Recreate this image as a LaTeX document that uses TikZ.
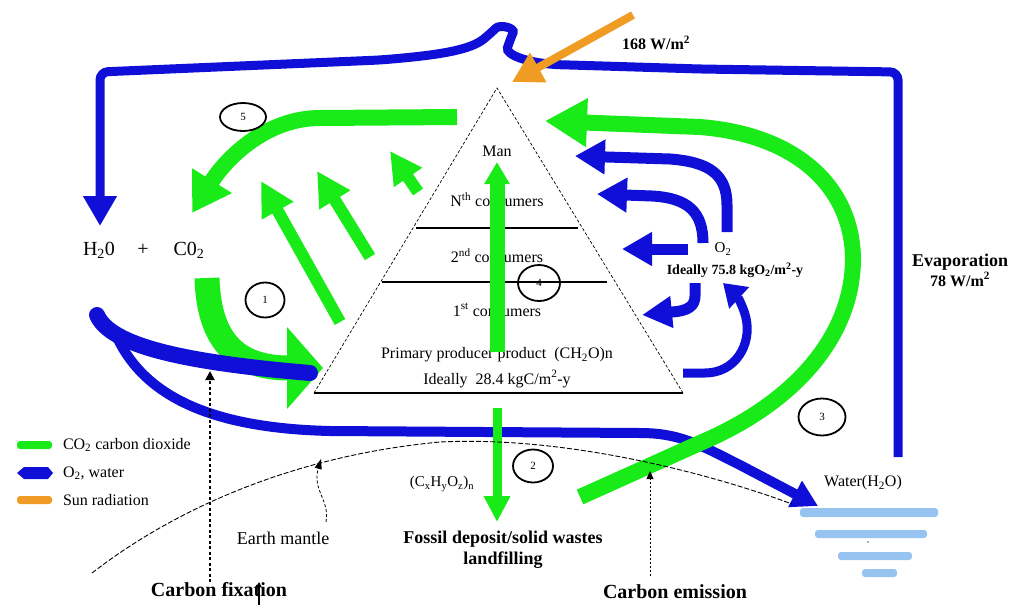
\documentclass[tikz,border=0pt]{standalone}
\usepackage{fontspec}
\setmainfont{Liberation Serif}
\usetikzlibrary{arrows.meta,shapes.geometric}
\definecolor{cgreen}{RGB}{25,235,25}
\definecolor{cblue}{RGB}{15,15,215}
\definecolor{corange}{RGB}{240,155,35}
\definecolor{cwater}{RGB}{150,195,240}
\newcommand{\fs}[1]{\fontsize{#1}{#1}\selectfont}
\begin{document}
\begin{tikzpicture}[x=1pt,y=-1pt,
  txt/.style={inner sep=0pt,outer sep=0pt},
  num/.style={ellipse,draw=black,line width=1.8pt,inner sep=0pt,font=\fs{11}},
  gflow/.style={draw=cgreen,line width=#1},
  bflow/.style={draw=cblue,line width=#1},
  legbar/.style={rounded corners=3pt},
  waterbar/.style={fill=cwater,rounded corners=3pt}]
\useasboundingbox (0,0) rectangle (1011,605);

% ---------- pyramid ----------
\coordinate (apex) at (497,88);
\coordinate (bl) at (314,393);
\coordinate (br) at (683,393);
\draw[line width=0.7pt,dash pattern=on 3pt off 2pt] (bl) -- (apex) -- (br);
\draw[line width=1.3pt] (bl) -- (br);
\draw[line width=1.1pt] (416,228) -- (578,228);
\draw[line width=1.1pt] (382,282) -- (607,282);

\node[txt,font=\fs{16}] (man) at (497,151) {Man};
\node[txt,font=\fs{16}] (nth) at (497,200) {N\textsuperscript{th} consumers};
\node[txt,font=\fs{16}] (snd) at (497,256) {2\textsuperscript{nd} consumers};
\node[txt,font=\fs{16}] (fst) at (497,310) {1\textsuperscript{st} consumers};
\node[txt,font=\fs{16}] (prim) at (497,355) {Primary producer product \ (CH\textsubscript{2}O)n};
\node[txt,font=\fs{16}] (ideal) at (497,379) {Ideally \ 28.4 kgC/m\textsuperscript{2}-y};

% ---------- blue top loop ----------
\draw[bflow=9pt,rounded corners=8pt,-{Triangle[width=32pt,length=30pt]}]
  (898,457) -- (898,72) -- (700,69) -- (570,65)
  .. controls (530,64) and (505,55) .. (510,40)
  .. controls (515,28) and (500,24) .. (490,34)
  .. controls (470,50) and (440,55) .. (380,60)
  -- (100,72) -- (100,226);

% ---------- sun ----------
\draw[draw=corange,line width=8pt,-{Triangle[width=32pt,length=30pt]}] (633,15) -- (512,82);
\node[txt,font=\fs{16}\bfseries] (sun) at (656,43) {168 W/m\textsuperscript{2}};

% ---------- evaporation ----------
\node[txt,font=\fs{18}\bfseries,align=center] (evap) at (960,270) {Evaporation\\[2pt]\fs{16}78 W/m\textsuperscript{2}};

% ---------- blue long lower arrow ----------
\draw[bflow=10pt,-{Triangle[width=28pt,length=26pt]}]
  (115,333) .. controls (140,390) and (200,428) .. (330,431)
  -- (640,433) .. controls (680,433) and (700,445) .. (740,465) -- (818,506);

% ---------- green arrows ----------
% arrow 5
\draw[gflow=16pt,-{Triangle[width=44pt,length=38pt]}]
  (457,117) -- (320,118) .. controls (265,118) and (225,160) .. (192,213);
% arrow 3 (big right loop)
\draw[gflow=16pt,-{Triangle[width=46pt,length=42pt]}]
  (580,497) -- (700,443) .. controls (790,405) and (852,340) .. (853,260)
  .. controls (853,190) and (800,135) .. (700,127) -- (545,121);
% arrow 1
\draw[gflow=25pt,-{Triangle[width=80pt,length=36pt]}]
  (207,278) .. controls (209,345) and (240,368) .. (323,368);
% diagonal arrows
\draw[gflow=12pt,-{Triangle[width=34pt,length=34pt]}] (340,322) -- (261,181);
\draw[gflow=12pt,-{Triangle[width=34pt,length=34pt]}] (370,257) -- (317,171);
\draw[gflow=12pt,-{Triangle[width=32pt,length=32pt]}] (418,192) -- (390,151);
% central vertical arrow
\draw[gflow=15pt,-{Triangle[width=24pt,length=22pt]}] (497,352) -- (497,162);
% arrow down to fossil deposit
\draw[gflow=9pt,-{Triangle[width=25pt,length=26pt]}] (497,408) -- (497,522);

% ---------- blue thick lower-left ----------
\draw[bflow=16pt,line cap=round]
  (97,315) .. controls (110,345) and (180,362) .. (310,373);

% ---------- blue O2 arrows ----------
\draw[bflow=11pt,-{Triangle[width=33pt,length=30pt]}]
  (727,232) -- (727,205) .. controls (727,175) and (710,162) .. (670,159) -- (575,156);
\draw[bflow=11pt,-{Triangle[width=33pt,length=30pt]}]
  (703,243) .. controls (703,212) and (688,198) .. (652,196) -- (597,194);
\draw[bflow=11pt,-{Triangle[width=32pt,length=30pt]}] (688,249) -- (622,249);
\draw[bflow=11pt,-{Triangle[width=30pt,length=30pt]}]
  (695,283) -- (695,296) .. controls (695,306) and (688,311) .. (672,312) -- (642,315);
\draw[bflow=9pt,-{Triangle[width=28pt,length=22pt]}]
  (683,373) -- (705,373) .. controls (735,373) and (752,345) .. (746,318)
  .. controls (743,305) and (736,295) .. (723,283);
\node[txt,font=\fs{15}] (o2) at (723,249) {O\textsubscript{2}};
\node[txt,font=\fs{14}\bfseries] (o2ideal) at (735,270) {Ideally 75.8 kgO\textsubscript{2}/m\textsuperscript{2}-y};

% ---------- circled numbers ----------
\node[num,minimum width=42pt,minimum height=36pt] (c4) at (539,283) {4};
\node[num,minimum width=39pt,minimum height=35pt] (c1) at (265,300) {1};
\node[num,minimum width=46pt,minimum height=28pt] (c5) at (243,117) {5};
\node[num,minimum width=40pt,minimum height=33pt] (c2) at (533,466) {2};
\node[num,minimum width=47pt,minimum height=37pt] (c3) at (822,417) {3};

% ---------- H2O + CO2 ----------
\node[txt,font=\fs{20}] (h2o) at (99,250) {H\textsubscript{2}0};
\node[txt,font=\fs{20}] (plus) at (143,250) {+};
\node[txt,font=\fs{20}] (co2) at (189,250) {C0\textsubscript{2}};

% ---------- earth mantle ----------
\draw[line width=0.9pt,dash pattern=on 5pt off 2pt]
  (92,573) .. controls (180,505) and (300,455) .. (440,442)
  .. controls (560,436) and (700,470) .. (792,504);
\node[txt,font=\fs{18}] (mantle) at (283,538) {Earth mantle};
\draw[line width=0.8pt,dash pattern=on 3pt off 2pt,-{Triangle[width=7pt,length=10pt]}]
  (326,522) .. controls (330,500) and (312,490) .. (321,459);

% carbon fixation
\draw[line width=2pt,dash pattern=on 3pt off 2.5pt,-{Triangle[width=9pt,length=9pt]}]
  (210,582) -- (210,371);
\node[txt,font=\fs{20}\bfseries] (cfix) at (219,590) {Carbon fixation};
\draw[line width=1.2pt,-{Triangle[width=5pt,length=5pt]}] (259,605) -- (259,582);

% carbon emission
\draw[line width=0.8pt,dash pattern=on 2pt off 2pt,-{Triangle[width=7pt,length=8pt]}]
  (650,576) -- (650,471);
\node[txt,font=\fs{20}\bfseries] (cemit) at (675,592) {Carbon emission};

% fossil deposit
\node[txt,font=\fs{18}\bfseries,align=center] (fossil) at (503,550)
  {Fossil deposit/solid wastes\\[3pt]landfilling};
\node[txt,font=\fs{15}] (cxhy) at (442,484) {(C\textsubscript{x}H\textsubscript{y}O\textsubscript{z})\textsubscript{n}};

% ---------- water ----------
\node[txt,font=\fs{16}] (water) at (863,483) {Water(H\textsubscript{2}O)};
\fill[waterbar] (800,508) rectangle (938,517);
\fill[waterbar] (815,530) rectangle (927,538);
\fill[waterbar] (838,552) rectangle (912,560);
\fill[waterbar] (862,569) rectangle (897,577);
\fill[black!60] (868,542) circle (0.8pt);

% ---------- legend ----------
\fill[cgreen,legbar] (17,441) rectangle (52,449);
\fill[cblue] (17,473) -- (24,467) -- (48,467) -- (53,473) -- (48,479) -- (24,479) -- cycle;
\fill[corange,legbar] (17,496) rectangle (52,504);
\node[txt,anchor=west,font=\fs{16}] (lg1) at (63,445) {CO\textsubscript{2} carbon dioxide};
\node[txt,anchor=west,font=\fs{16}] (lg2) at (63,473) {O\textsubscript{2}, water};
\node[txt,anchor=west,font=\fs{16}] (lg3) at (63,500) {Sun radiation};
\end{tikzpicture}
\end{document}
